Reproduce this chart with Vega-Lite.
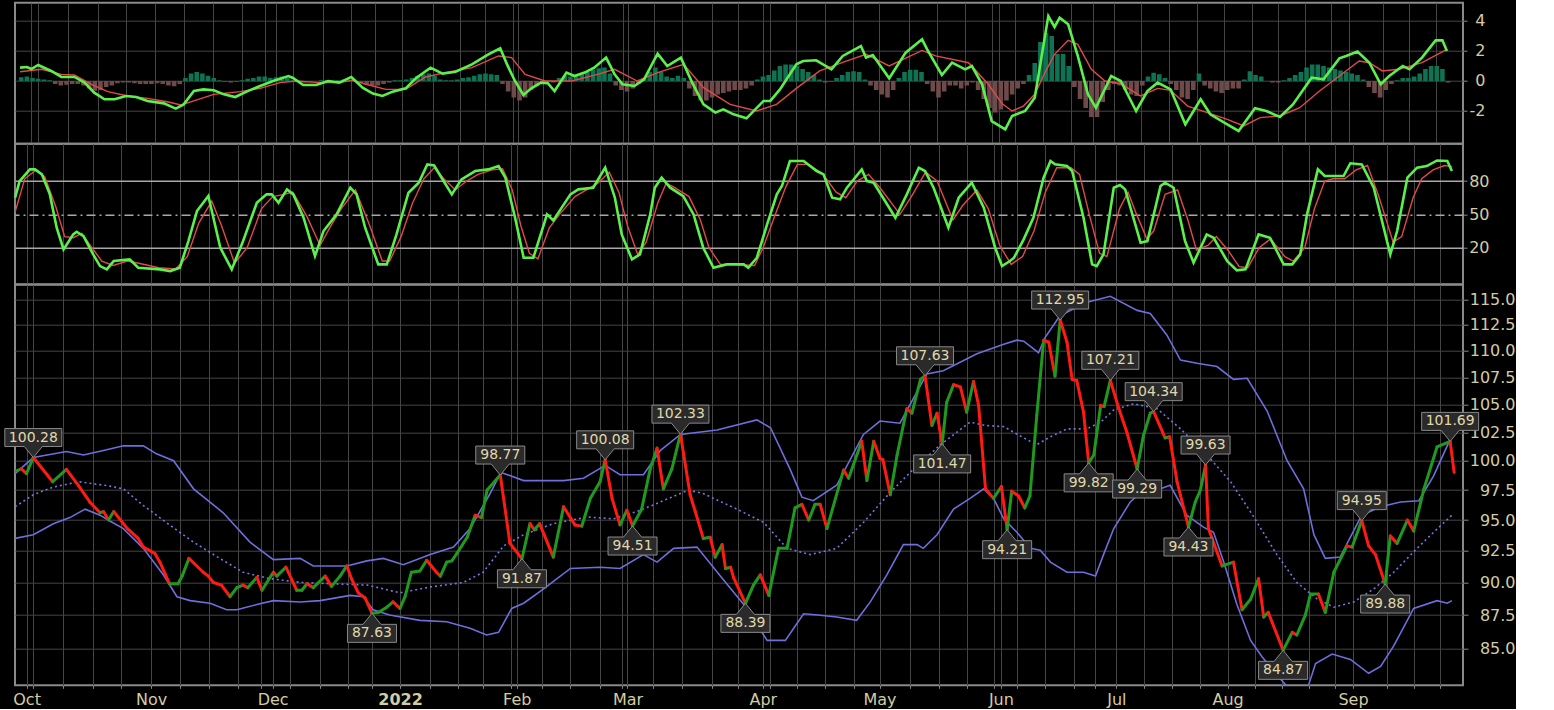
{
  "$schema": "https://vega.github.io/schema/vega-lite/v6.json",
  "background": "#000000",
  "padding": {"left": 1.0, "top": 1.7, "right": 0, "bottom": 0},
  "spacing": 0,
  "bounds": "flush",
  "config": {
    "view": {"stroke": "#8a8a8a", "strokeWidth": 2},
    "axis": {"gridColor": "#454545", "gridWidth": 1, "labelColor": "#d4cca0", "labelFont": "DejaVu Sans", "labelFontSize": 16, "domain": false, "tickColor": "#8a8a8a", "title": null, "labelOverlap": false, "labelFlush": false, "labelBound": false}
  },
  "datasets": {
    "price": [
      {"t":-3.2,"p":99.1},{"t":-2.1,"p":99.3},{"t":-1.2,"p":98.9},{"t":0,"p":100.28},{"t":3.4,"p":98.2},{"t":5.8,"p":99.26},{"t":7.9,"p":97.9},{"t":9.9,"p":96.5},{"t":11.7,"p":95.6},{"t":12.3,"p":95.7},{"t":13.2,"p":95.0},{"t":14.1,"p":95.7},{"t":16.5,"p":94.3},{"t":18.4,"p":93.5},{"t":19.3,"p":92.8},{"t":21.3,"p":92.3},{"t":22.2,"p":91.6},{"t":23.9,"p":89.9},{"t":25.4,"p":89.9},{"t":26.1,"p":90.5},{"t":27.3,"p":91.9},{"t":29.8,"p":90.8},{"t":30.7,"p":90.5},{"t":31.6,"p":90.0},{"t":33,"p":89.8},{"t":34.5,"p":88.9},{"t":35.7,"p":89.6},{"t":36.8,"p":89.8},{"t":37.6,"p":89.6},{"t":39.2,"p":90.4},{"t":40.1,"p":89.4},{"t":42.1,"p":90.8},{"t":42.7,"p":90.5},{"t":44.3,"p":91.2},{"t":46.2,"p":89.4},{"t":47.1,"p":89.4},{"t":48,"p":89.9},{"t":49.1,"p":89.6},{"t":51.2,"p":90.5},{"t":52.3,"p":89.7},{"t":53.8,"p":90.5},{"t":55,"p":91.3},{"t":55.8,"p":90.3},{"t":57,"p":89.2},{"t":58.2,"p":88.8},{"t":59.4,"p":87.63},{"t":60.5,"p":87.7},{"t":62,"p":88.1},{"t":63.1,"p":88.5},{"t":64.3,"p":88.0},{"t":65.2,"p":88.9},{"t":66.3,"p":90.8},{"t":67.8,"p":90.9},{"t":69,"p":91.75},{"t":70.7,"p":90.8},{"t":71.4,"p":90.5},{"t":72.5,"p":91.6},{"t":73.4,"p":91.7},{"t":74.3,"p":92.3},{"t":76.1,"p":93.6},{"t":77.5,"p":95.4},{"t":78.6,"p":95.2},{"t":79.6,"p":97.5},{"t":81.9,"p":98.77},{"t":83.6,"p":93.1},{"t":85.7,"p":91.87},{"t":87.1,"p":94.7},{"t":87.9,"p":94.2},{"t":88.8,"p":94.7},{"t":91.2,"p":92.0},{"t":93,"p":96.1},{"t":95,"p":94.6},{"t":96.2,"p":94.5},{"t":97.7,"p":96.8},{"t":99.4,"p":98.2},{"t":100.3,"p":100.08},{"t":101.5,"p":96.8},{"t":102.9,"p":94.6},{"t":104.1,"p":95.8},{"t":105.1,"p":94.51},{"t":106.7,"p":95.9},{"t":108.2,"p":99.3},{"t":109.4,"p":101.1},{"t":110.5,"p":97.6},{"t":112,"p":99.3},{"t":113.5,"p":102.33},{"t":115.2,"p":97.1},{"t":116.1,"p":95.7},{"t":117.5,"p":93.5},{"t":118.7,"p":93.6},{"t":119.6,"p":92.0},{"t":120.8,"p":93.0},{"t":121.4,"p":91.1},{"t":122.3,"p":91.2},{"t":122.8,"p":90.4},{"t":124.9,"p":88.39},{"t":126.3,"p":89.8},{"t":127.5,"p":90.6},{"t":129,"p":89.0},{"t":130.7,"p":92.7},{"t":132.2,"p":92.7},{"t":133.6,"p":96.0},{"t":134.8,"p":96.3},{"t":136,"p":95.0},{"t":137.1,"p":96.3},{"t":138,"p":96.3},{"t":139.2,"p":94.3},{"t":142.1,"p":99.2},{"t":143,"p":98.5},{"t":145.3,"p":101.7},{"t":146.2,"p":98.3},{"t":147.4,"p":101.7},{"t":148.5,"p":100.2},{"t":149,"p":100.1},{"t":150.3,"p":97.1},{"t":151.5,"p":100.5},{"t":153.2,"p":104.6},{"t":154.1,"p":104.2},{"t":155.6,"p":107.3},{"t":156.4,"p":107.63},{"t":157.6,"p":103.1},{"t":158.5,"p":104.2},{"t":159.4,"p":101.47},{"t":160.2,"p":105.2},{"t":161.4,"p":106.8},{"t":162.6,"p":106.6},{"t":163.7,"p":104.3},{"t":164.9,"p":107.1},{"t":165.8,"p":104.9},{"t":167,"p":97.6},{"t":168.4,"p":96.8},{"t":169.8,"p":97.8},{"t":170.8,"p":94.21},{"t":171.6,"p":97.4},{"t":172.8,"p":97.0},{"t":173.9,"p":96.0},{"t":174.8,"p":97.0},{"t":176,"p":104.0},{"t":177.2,"p":111.0},{"t":178.1,"p":110.8},{"t":179.2,"p":107.6},{"t":180.1,"p":112.95},{"t":181.3,"p":110.8},{"t":182.2,"p":107.3},{"t":183,"p":107.2},{"t":184.2,"p":104.3},{"t":185.1,"p":99.82},{"t":186,"p":100.5},{"t":187.2,"p":104.9},{"t":187.8,"p":104.8},{"t":188.9,"p":107.21},{"t":190.4,"p":104.6},{"t":191.8,"p":102.5},{"t":193.6,"p":99.29},{"t":194.7,"p":102.2},{"t":195.9,"p":104.2},{"t":196.5,"p":104.34},{"t":198.5,"p":102.0},{"t":199.3,"p":102.1},{"t":200.6,"p":98.2},{"t":202.6,"p":94.43},{"t":203.8,"p":96.5},{"t":204.7,"p":97.5},{"t":205.6,"p":99.63},{"t":206.1,"p":94.3},{"t":208.5,"p":91.3},{"t":210.5,"p":91.6},{"t":212,"p":87.9},{"t":213.5,"p":88.7},{"t":214.9,"p":90.3},{"t":215.8,"p":87.35},{"t":216.6,"p":87.7},{"t":219.2,"p":84.87},{"t":220.8,"p":86.2},{"t":221.6,"p":86.0},{"t":223.1,"p":87.5},{"t":224,"p":89.1},{"t":225.4,"p":89.1},{"t":226.6,"p":87.7},{"t":228.1,"p":90.8},{"t":230.4,"p":92.9},{"t":231.3,"p":92.8},{"t":233,"p":94.95},{"t":234.2,"p":92.9},{"t":235.4,"p":92.2},{"t":237.1,"p":89.88},{"t":238,"p":93.7},{"t":239.2,"p":93.1},{"t":241,"p":95.0},{"t":242.1,"p":94.1},{"t":243.9,"p":97.6},{"t":246.2,"p":101.2},{"t":248.5,"p":101.69},{"t":249.2,"p":99.0}
    ],
    "upper": [
      {"t":-3.2,"v":98.9},{"t":0,"v":100.28},{"t":5.8,"v":100.8},{"t":8.8,"v":100.5},{"t":12.3,"v":100.9},{"t":15.8,"v":101.3},{"t":19.3,"v":101.3},{"t":21.6,"v":100.6},{"t":24.6,"v":100.0},{"t":28.1,"v":97.6},{"t":33.3,"v":95.6},{"t":38,"v":93.2},{"t":42.1,"v":91.8},{"t":46.8,"v":91.9},{"t":49.1,"v":91.3},{"t":55,"v":91.3},{"t":58.5,"v":91.7},{"t":61.4,"v":91.9},{"t":64.9,"v":91.4},{"t":69.6,"v":92.2},{"t":73.7,"v":92.8},{"t":76.6,"v":94.3},{"t":80,"v":97.1},{"t":82,"v":99.0},{"t":86,"v":98.3},{"t":93,"v":98.3},{"t":96.5,"v":98.5},{"t":100.3,"v":99.6},{"t":102.9,"v":98.8},{"t":107,"v":98.8},{"t":110,"v":100.9},{"t":113.5,"v":102.3},{"t":119.9,"v":102.7},{"t":126.9,"v":103.6},{"t":129.3,"v":102.9},{"t":132.7,"v":99.3},{"t":134.8,"v":96.9},{"t":136.8,"v":96.6},{"t":140.9,"v":97.9},{"t":145.6,"v":102.3},{"t":148.5,"v":103.5},{"t":152,"v":103.3},{"t":156.7,"v":107.8},{"t":159.6,"v":108.1},{"t":165.5,"v":109.7},{"t":170.2,"v":110.6},{"t":172.5,"v":111.0},{"t":173.7,"v":110.9},{"t":176.3,"v":109.8},{"t":177.5,"v":111.3},{"t":180.1,"v":113.4},{"t":184.8,"v":114.7},{"t":188.9,"v":115.3},{"t":193.6,"v":113.9},{"t":195.9,"v":113.6},{"t":198.8,"v":111.5},{"t":201.2,"v":109.1},{"t":204.1,"v":108.8},{"t":207.6,"v":108.5},{"t":210.5,"v":107.3},{"t":212.9,"v":107.4},{"t":216.4,"v":104.4},{"t":219.9,"v":100.0},{"t":222.8,"v":97.6},{"t":224.6,"v":93.8},{"t":226.6,"v":91.9},{"t":229.2,"v":92.0},{"t":233,"v":95.4},{"t":236.3,"v":96.1},{"t":239.8,"v":96.5},{"t":243,"v":96.6},{"t":245.6,"v":98.7},{"t":248.8,"v":102.2}
    ],
    "lower": [
      {"t":-3.2,"v":93.5},{"t":0,"v":93.8},{"t":3.5,"v":94.7},{"t":6.4,"v":95.2},{"t":9.1,"v":95.9},{"t":11.7,"v":95.4},{"t":13.5,"v":94.9},{"t":15.8,"v":94.3},{"t":19.3,"v":92.7},{"t":22.8,"v":90.6},{"t":25.2,"v":88.9},{"t":27.5,"v":88.6},{"t":31,"v":88.4},{"t":33.9,"v":87.9},{"t":35.7,"v":87.9},{"t":39.2,"v":88.3},{"t":42.1,"v":88.6},{"t":46.8,"v":88.5},{"t":50.3,"v":88.6},{"t":55.6,"v":89.0},{"t":57.9,"v":88.9},{"t":59.6,"v":87.9},{"t":62.5,"v":87.5},{"t":67.8,"v":87.1},{"t":72.5,"v":87.0},{"t":76.6,"v":86.5},{"t":79.5,"v":86.0},{"t":81.6,"v":86.2},{"t":83.9,"v":88.0},{"t":86,"v":88.4},{"t":89.5,"v":89.5},{"t":94.2,"v":91.1},{"t":99.4,"v":91.2},{"t":102.9,"v":91.1},{"t":107,"v":92.2},{"t":109.4,"v":91.6},{"t":112.3,"v":92.7},{"t":116.4,"v":92.8},{"t":120.5,"v":90.5},{"t":124.6,"v":88.3},{"t":128.7,"v":85.6},{"t":131.9,"v":85.6},{"t":135.1,"v":87.6},{"t":137.6,"v":87.5},{"t":140.9,"v":87.35},{"t":144.4,"v":87.1},{"t":146.8,"v":88.5},{"t":149.7,"v":90.6},{"t":152.6,"v":93.0},{"t":155,"v":93.0},{"t":156.1,"v":92.7},{"t":158.5,"v":93.8},{"t":161.4,"v":95.9},{"t":164.3,"v":96.8},{"t":166.7,"v":97.6},{"t":168.4,"v":96.8},{"t":170.2,"v":95.1},{"t":172.5,"v":94.0},{"t":174.9,"v":92.7},{"t":176.6,"v":92.55},{"t":178.4,"v":91.6},{"t":181.3,"v":90.8},{"t":184.2,"v":90.8},{"t":186.3,"v":90.5},{"t":187.7,"v":92.2},{"t":189.5,"v":94.3},{"t":192.4,"v":96.5},{"t":194.7,"v":97.5},{"t":197.7,"v":97.6},{"t":199.4,"v":97.9},{"t":202.3,"v":95.4},{"t":205.3,"v":94.4},{"t":207,"v":94.0},{"t":208.8,"v":91.6},{"t":211.1,"v":88.3},{"t":213.5,"v":85.6},{"t":215.5,"v":84.4},{"t":218.7,"v":82.8},{"t":220.7,"v":81.9},{"t":222.5,"v":81.9},{"t":223.7,"v":82.4},{"t":224.9,"v":83.9},{"t":227.8,"v":84.6},{"t":231,"v":84.2},{"t":234.2,"v":83.2},{"t":236.3,"v":83.7},{"t":238.6,"v":85.2},{"t":242.1,"v":88.0},{"t":246.2,"v":88.6},{"t":248,"v":88.4},{"t":248.8,"v":88.6}
    ],
    "middle": [
      {"t":-3.2,"v":96.1},{"t":0,"v":97.1},{"t":3.5,"v":97.75},{"t":8,"v":98.2},{"t":13.2,"v":97.85},{"t":15.8,"v":97.6},{"t":19.3,"v":96.2},{"t":23.9,"v":94.6},{"t":28.1,"v":93.2},{"t":32.7,"v":91.9},{"t":36.8,"v":90.8},{"t":41.5,"v":90.3},{"t":47.1,"v":90.0},{"t":52.6,"v":89.9},{"t":58.6,"v":89.8},{"t":64.3,"v":89.2},{"t":69.6,"v":89.65},{"t":75.4,"v":90.0},{"t":78.9,"v":90.8},{"t":82.5,"v":92.9},{"t":86,"v":93.8},{"t":91.2,"v":94.7},{"t":97.1,"v":95.25},{"t":101.8,"v":95.1},{"t":105.8,"v":95.7},{"t":108.5,"v":96.2},{"t":114.9,"v":97.5},{"t":117.5,"v":97.2},{"t":123.4,"v":95.9},{"t":128.1,"v":94.8},{"t":132.2,"v":92.7},{"t":136.3,"v":92.2},{"t":140.9,"v":92.7},{"t":145.6,"v":94.8},{"t":150.3,"v":97.3},{"t":153.8,"v":99.0},{"t":159.1,"v":101.4},{"t":164.3,"v":103.4},{"t":167,"v":103.1},{"t":170.2,"v":103.0},{"t":173.7,"v":102.0},{"t":176,"v":101.4},{"t":178.4,"v":102.1},{"t":181.3,"v":102.8},{"t":184.8,"v":102.8},{"t":187.2,"v":103.4},{"t":189.5,"v":104.5},{"t":193,"v":105.06},{"t":197.1,"v":104.6},{"t":201.2,"v":102.8},{"t":205.3,"v":100.8},{"t":210,"v":98.2},{"t":214,"v":95.3},{"t":218.1,"v":92.2},{"t":221.6,"v":90.0},{"t":225.1,"v":88.75},{"t":228.1,"v":88.1},{"t":231.6,"v":88.5},{"t":235.1,"v":89.5},{"t":238.6,"v":90.8},{"t":242.7,"v":92.7},{"t":245.6,"v":94.0},{"t":248.8,"v":95.4}
    ],
    "labels": [
      {"t":0,"p":100.28,"txt":"100.28","kind":"peak"},{"t":59.4,"p":87.63,"txt":"87.63","kind":"trough"},{"t":81.9,"p":98.77,"txt":"98.77","kind":"peak"},{"t":85.7,"p":91.87,"txt":"91.87","kind":"trough"},{"t":100.3,"p":100.08,"txt":"100.08","kind":"peak"},{"t":105.1,"p":94.51,"txt":"94.51","kind":"trough"},{"t":113.5,"p":102.33,"txt":"102.33","kind":"peak"},{"t":124.9,"p":88.39,"txt":"88.39","kind":"trough"},{"t":156.4,"p":107.63,"txt":"107.63","kind":"peak"},{"t":159.4,"p":101.47,"txt":"101.47","kind":"trough"},{"t":170.8,"p":94.21,"txt":"94.21","kind":"trough"},{"t":180.1,"p":112.95,"txt":"112.95","kind":"peak"},{"t":185.1,"p":99.82,"txt":"99.82","kind":"trough"},{"t":188.9,"p":107.21,"txt":"107.21","kind":"peak"},{"t":193.6,"p":99.29,"txt":"99.29","kind":"trough"},{"t":196.5,"p":104.34,"txt":"104.34","kind":"peak"},{"t":202.6,"p":94.43,"txt":"94.43","kind":"trough"},{"t":205.6,"p":99.63,"txt":"99.63","kind":"peak"},{"t":219.2,"p":84.87,"txt":"84.87","kind":"trough"},{"t":233,"p":94.95,"txt":"94.95","kind":"peak"},{"t":237.1,"p":89.88,"txt":"89.88","kind":"trough"},{"t":248.5,"p":101.69,"txt":"101.69","kind":"peak"}
    ],
    "macd": [
      {"t":-3.2,"v":0.89},{"t":-2,"v":0.93},{"t":-1.2,"v":0.8},{"t":0,"v":1.07},{"t":2.3,"v":0.67},{"t":4.1,"v":0.27},{"t":6.4,"v":0.27},{"t":8.2,"v":-0.11},{"t":9.9,"v":-0.78},{"t":11.7,"v":-1.22},{"t":13.5,"v":-1.22},{"t":15.5,"v":-1.0},{"t":17.3,"v":-1.07},{"t":19.3,"v":-1.33},{"t":22.2,"v":-1.49},{"t":24.3,"v":-1.84},{"t":25.7,"v":-1.56},{"t":27.5,"v":-0.67},{"t":29.2,"v":-0.56},{"t":31,"v":-0.62},{"t":32.8,"v":-0.89},{"t":34.8,"v":-1.07},{"t":36.8,"v":-0.71},{"t":39.2,"v":-0.33},{"t":41.5,"v":0},{"t":44.2,"v":0.33},{"t":45,"v":0.2},{"t":46.8,"v":-0.27},{"t":49.1,"v":-0.27},{"t":51.2,"v":0},{"t":53.2,"v":-0.11},{"t":55.3,"v":0.27},{"t":57.3,"v":-0.44},{"t":59.1,"v":-0.84},{"t":60.8,"v":-1.0},{"t":62.6,"v":-0.71},{"t":64.9,"v":-0.49},{"t":66.7,"v":0.18},{"t":69.3,"v":0.89},{"t":71.4,"v":0.49},{"t":73.7,"v":0.62},{"t":76.6,"v":1.11},{"t":79.5,"v":1.78},{"t":81.6,"v":2.18},{"t":82.8,"v":1.11},{"t":84.2,"v":0},{"t":85.7,"v":-0.93},{"t":87.1,"v":-0.49},{"t":88.8,"v":-0.11},{"t":90,"v":-0.15},{"t":91.2,"v":-0.67},{"t":93.3,"v":0.56},{"t":94.7,"v":0.33},{"t":96.5,"v":0.56},{"t":98.2,"v":0.89},{"t":100.3,"v":1.56},{"t":101.8,"v":0.44},{"t":103.2,"v":-0.22},{"t":105.3,"v":-0.33},{"t":107,"v":0.11},{"t":109.4,"v":1.82},{"t":111.1,"v":1.0},{"t":113.5,"v":1.56},{"t":115.5,"v":-0.11},{"t":117.5,"v":-1.56},{"t":119.6,"v":-2.11},{"t":121,"v":-1.89},{"t":122.8,"v":-2.22},{"t":125.1,"v":-2.49},{"t":128.1,"v":-1.33},{"t":129.3,"v":-1.33},{"t":131,"v":-0.56},{"t":133.9,"v":1.11},{"t":135.1,"v":1.33},{"t":137.4,"v":1.38},{"t":140.1,"v":0.78},{"t":142.1,"v":1.67},{"t":145.3,"v":2.33},{"t":146.2,"v":1.56},{"t":147.4,"v":1.73},{"t":150.3,"v":0.18},{"t":153.2,"v":1.89},{"t":156.1,"v":2.78},{"t":157,"v":2.11},{"t":159.6,"v":0.4},{"t":161.4,"v":1.22},{"t":163.7,"v":0.78},{"t":164.9,"v":1.0},{"t":166.7,"v":-0.22},{"t":168.4,"v":-2.67},{"t":170.8,"v":-3.22},{"t":172,"v":-2.33},{"t":174.3,"v":-2.0},{"t":176,"v":-1.11},{"t":178.4,"v":4.33},{"t":179.5,"v":3.6},{"t":180.4,"v":4.22},{"t":181.9,"v":3.78},{"t":183.6,"v":1.67},{"t":185.4,"v":-0.89},{"t":186.8,"v":-1.78},{"t":189.5,"v":0.33},{"t":191.2,"v":0},{"t":193.9,"v":-2.0},{"t":195.9,"v":-0.67},{"t":197.7,"v":-0.11},{"t":200,"v":-0.56},{"t":202.6,"v":-2.89},{"t":205.3,"v":-1.22},{"t":207,"v":-2.22},{"t":210,"v":-2.89},{"t":212,"v":-3.33},{"t":214.9,"v":-1.82},{"t":216.9,"v":-2.0},{"t":219.3,"v":-2.4},{"t":221.6,"v":-1.56},{"t":224.9,"v":0.22},{"t":227,"v":0.11},{"t":229.8,"v":1.51},{"t":231,"v":1.67},{"t":233,"v":1.96},{"t":235.1,"v":1.22},{"t":237.1,"v":-0.22},{"t":238.6,"v":0.33},{"t":241,"v":1.0},{"t":242.2,"v":0.78},{"t":244.4,"v":1.56},{"t":246.8,"v":2.71},{"t":248,"v":2.71},{"t":248.8,"v":2.0}
    ],
    "signal": [
      {"t":-3.2,"v":0.62},{"t":0.6,"v":0.78},{"t":4.1,"v":0.44},{"t":6.4,"v":0.4},{"t":9.4,"v":-0.22},{"t":12.3,"v":-0.71},{"t":15.8,"v":-1.0},{"t":19.3,"v":-1.16},{"t":22.8,"v":-1.38},{"t":25.2,"v":-1.6},{"t":27.5,"v":-1.33},{"t":31,"v":-0.89},{"t":35.7,"v":-0.71},{"t":39.2,"v":-0.49},{"t":42.7,"v":-0.11},{"t":45.6,"v":0},{"t":49.6,"v":-0.11},{"t":53,"v":-0.11},{"t":55.6,"v":0.04},{"t":57.9,"v":-0.22},{"t":61.4,"v":-0.56},{"t":64.9,"v":-0.56},{"t":68.4,"v":0.27},{"t":71.9,"v":0.56},{"t":76.6,"v":0.89},{"t":81.3,"v":1.67},{"t":83.6,"v":1.56},{"t":86,"v":0.44},{"t":89.5,"v":0},{"t":94.2,"v":0},{"t":98.8,"v":0.44},{"t":101.8,"v":0.78},{"t":105.8,"v":0},{"t":109.4,"v":0.56},{"t":114,"v":1.11},{"t":117.5,"v":-0.44},{"t":122.2,"v":-1.56},{"t":126.9,"v":-2.0},{"t":130.4,"v":-1.56},{"t":133.9,"v":-0.49},{"t":138,"v":0.67},{"t":142.7,"v":1.33},{"t":146.2,"v":1.78},{"t":150.3,"v":1.0},{"t":156.1,"v":2.04},{"t":158.5,"v":1.67},{"t":164.3,"v":1.22},{"t":167.8,"v":-0.22},{"t":170.2,"v":-1.5},{"t":172,"v":-2.0},{"t":174,"v":-1.67},{"t":176,"v":-0.89},{"t":177.8,"v":0.56},{"t":179.5,"v":1.78},{"t":181.9,"v":2.71},{"t":183.6,"v":2.44},{"t":186,"v":0.78},{"t":188.4,"v":0},{"t":191.2,"v":-0.18},{"t":194.7,"v":-1.0},{"t":197.7,"v":-0.49},{"t":200,"v":-0.62},{"t":203,"v":-1.67},{"t":206.5,"v":-2.11},{"t":210,"v":-2.56},{"t":212.9,"v":-3.0},{"t":215.8,"v":-2.44},{"t":219.3,"v":-2.33},{"t":222.8,"v":-1.78},{"t":226.3,"v":-0.67},{"t":229.8,"v":0.33},{"t":233.3,"v":1.33},{"t":235.1,"v":1.22},{"t":237.4,"v":0.67},{"t":240.3,"v":0.78},{"t":244.4,"v":1.22},{"t":248.8,"v":2.11}
    ],
    "hist": [
      {"t":-3,"v":0.25},{"t":-2,"v":0.3},{"t":-1,"v":0.2},{"t":0,"v":0.15},{"t":1,"v":0.1},{"t":2,"v":0.05},{"t":3,"v":-0.2},{"t":4,"v":-0.3},{"t":5,"v":-0.25},{"t":6,"v":-0.2},{"t":7,"v":-0.2},{"t":8,"v":-0.3},{"t":9,"v":-0.5},{"t":10,"v":-0.65},{"t":11,"v":-0.6},{"t":12,"v":-0.4},{"t":13,"v":-0.3},{"t":14,"v":-0.15},{"t":15,"v":-0.1},{"t":16,"v":-0.1},{"t":17,"v":-0.15},{"t":18,"v":-0.2},{"t":19,"v":-0.2},{"t":20,"v":-0.2},{"t":21,"v":-0.15},{"t":22,"v":-0.2},{"t":23,"v":-0.3},{"t":24,"v":-0.35},{"t":25,"v":-0.2},{"t":26,"v":0.2},{"t":27,"v":0.5},{"t":28,"v":0.6},{"t":29,"v":0.5},{"t":30,"v":0.35},{"t":31,"v":0.2},{"t":32,"v":0.05},{"t":33,"v":-0.05},{"t":34,"v":-0.1},{"t":35,"v":-0.05},{"t":36,"v":0.05},{"t":37,"v":0.15},{"t":38,"v":0.2},{"t":39,"v":0.3},{"t":40,"v":0.3},{"t":41,"v":0.2},{"t":42,"v":0.25},{"t":43,"v":0.3},{"t":44,"v":0.2},{"t":45,"v":0.05},{"t":46,"v":-0.05},{"t":47,"v":-0.1},{"t":48,"v":-0.05},{"t":49,"v":0.0},{"t":50,"v":0.05},{"t":51,"v":0.05},{"t":52,"v":0.0},{"t":53,"v":0.05},{"t":54,"v":0.1},{"t":55,"v":0.1},{"t":56,"v":0.0},{"t":57,"v":-0.15},{"t":58,"v":-0.25},{"t":59,"v":-0.3},{"t":60,"v":-0.3},{"t":61,"v":-0.2},{"t":62,"v":-0.1},{"t":63,"v":0.05},{"t":64,"v":0.05},{"t":65,"v":0.1},{"t":66,"v":0.2},{"t":67,"v":0.35},{"t":68,"v":0.45},{"t":69,"v":0.5},{"t":70,"v":0.35},{"t":71,"v":0.1},{"t":72,"v":0.05},{"t":73,"v":0.05},{"t":74,"v":0.1},{"t":75,"v":0.2},{"t":76,"v":0.25},{"t":77,"v":0.35},{"t":78,"v":0.45},{"t":79,"v":0.5},{"t":80,"v":0.45},{"t":81,"v":0.4},{"t":82,"v":-0.2},{"t":83,"v":-0.7},{"t":84,"v":-1.1},{"t":85,"v":-1.3},{"t":86,"v":-1.1},{"t":87,"v":-0.6},{"t":88,"v":-0.35},{"t":89,"v":-0.1},{"t":90,"v":-0.05},{"t":91,"v":-0.1},{"t":92,"v":0.2},{"t":93,"v":0.35},{"t":94,"v":0.3},{"t":95,"v":0.4},{"t":96,"v":0.45},{"t":97,"v":0.6},{"t":98,"v":0.75},{"t":99,"v":0.85},{"t":100,"v":0.9},{"t":101,"v":0.5},{"t":102,"v":-0.3},{"t":103,"v":-0.6},{"t":104,"v":-0.7},{"t":105,"v":-0.5},{"t":106,"v":-0.2},{"t":107,"v":0.2},{"t":108,"v":0.6},{"t":109,"v":0.9},{"t":110,"v":0.6},{"t":111,"v":0.3},{"t":112,"v":0.2},{"t":113,"v":0.35},{"t":114,"v":0.2},{"t":115,"v":-0.5},{"t":116,"v":-1.0},{"t":117,"v":-1.3},{"t":118,"v":-1.3},{"t":119,"v":-1.1},{"t":120,"v":-0.9},{"t":121,"v":-0.8},{"t":122,"v":-0.7},{"t":123,"v":-0.6},{"t":124,"v":-0.6},{"t":125,"v":-0.5},{"t":126,"v":-0.3},{"t":127,"v":0.1},{"t":128,"v":0.3},{"t":129,"v":0.4},{"t":130,"v":0.7},{"t":131,"v":1.0},{"t":132,"v":1.1},{"t":133,"v":1.1},{"t":134,"v":1.0},{"t":135,"v":0.8},{"t":136,"v":0.6},{"t":137,"v":0.4},{"t":138,"v":0.1},{"t":139,"v":-0.1},{"t":140,"v":-0.05},{"t":141,"v":0.2},{"t":142,"v":0.4},{"t":143,"v":0.6},{"t":144,"v":0.65},{"t":145,"v":0.6},{"t":146,"v":0.1},{"t":147,"v":-0.3},{"t":148,"v":-0.6},{"t":149,"v":-0.9},{"t":150,"v":-1.1},{"t":151,"v":-0.6},{"t":152,"v":0.2},{"t":153,"v":0.6},{"t":154,"v":0.75},{"t":155,"v":0.75},{"t":156,"v":0.6},{"t":157,"v":-0.2},{"t":158,"v":-0.7},{"t":159,"v":-1.1},{"t":160,"v":-0.7},{"t":161,"v":-0.3},{"t":162,"v":-0.3},{"t":163,"v":-0.5},{"t":164,"v":-0.3},{"t":165,"v":-0.1},{"t":166,"v":-0.6},{"t":167,"v":-1.2},{"t":168,"v":-1.8},{"t":169,"v":-2.1},{"t":170,"v":-1.9},{"t":171,"v":-1.3},{"t":172,"v":-0.9},{"t":173,"v":-0.5},{"t":174,"v":-0.2},{"t":175,"v":0.4},{"t":176,"v":1.2},{"t":177,"v":2.6},{"t":178,"v":3.2},{"t":179,"v":3.0},{"t":180,"v":1.8},{"t":181,"v":1.8},{"t":182,"v":1.0},{"t":183,"v":-0.4},{"t":184,"v":-1.2},{"t":185,"v":-1.8},{"t":186,"v":-2.4},{"t":187,"v":-2.4},{"t":188,"v":-1.4},{"t":189,"v":-0.6},{"t":190,"v":-0.2},{"t":191,"v":-0.3},{"t":192,"v":-0.6},{"t":193,"v":-0.9},{"t":194,"v":-1.0},{"t":195,"v":-0.3},{"t":196,"v":0.3},{"t":197,"v":0.55},{"t":198,"v":0.45},{"t":199,"v":0.2},{"t":200,"v":-0.2},{"t":201,"v":-0.6},{"t":202,"v":-1.1},{"t":203,"v":-1.2},{"t":204,"v":-0.6},{"t":205,"v":0.5},{"t":206,"v":-0.3},{"t":207,"v":-0.5},{"t":208,"v":-0.7},{"t":209,"v":-0.8},{"t":210,"v":-0.6},{"t":211,"v":-0.5},{"t":212,"v":-0.5},{"t":213,"v":0.1},{"t":214,"v":0.65},{"t":215,"v":0.4},{"t":216,"v":0.3},{"t":217,"v":0.0},{"t":218,"v":-0.1},{"t":219,"v":-0.1},{"t":220,"v":0.05},{"t":221,"v":0.2},{"t":222,"v":0.4},{"t":223,"v":0.6},{"t":224,"v":0.9},{"t":225,"v":1.1},{"t":226,"v":1.1},{"t":227,"v":1.0},{"t":228,"v":0.9},{"t":229,"v":0.8},{"t":230,"v":0.7},{"t":231,"v":0.6},{"t":232,"v":0.5},{"t":233,"v":0.4},{"t":234,"v":0.1},{"t":235,"v":-0.4},{"t":236,"v":-0.8},{"t":237,"v":-1.1},{"t":238,"v":-0.6},{"t":239,"v":-0.2},{"t":240,"v":0.05},{"t":241,"v":0.2},{"t":242,"v":0.2},{"t":243,"v":0.3},{"t":244,"v":0.5},{"t":245,"v":0.8},{"t":246,"v":1.0},{"t":247,"v":1.0},{"t":248,"v":0.8},{"t":249,"v":-0.1}
    ],
    "stochK": [
      {"t":-3.2,"v":65},{"t":-2.4,"v":80},{"t":-0.6,"v":90.5},{"t":0.3,"v":90.5},{"t":1.5,"v":86},{"t":2.9,"v":68},{"t":4.1,"v":38},{"t":5.3,"v":18.5},{"t":7,"v":32},{"t":7.6,"v":34.4},{"t":8.8,"v":30.5},{"t":10.5,"v":14},{"t":11.7,"v":3.5},{"t":12.9,"v":0.5},{"t":14.1,"v":8},{"t":16.9,"v":9.5},{"t":18.4,"v":2},{"t":22.2,"v":0.5},{"t":24,"v":-1},{"t":25.7,"v":2},{"t":27.2,"v":26},{"t":28.7,"v":53},{"t":30.7,"v":66.5},{"t":32.8,"v":20},{"t":34.8,"v":0.5},{"t":36.8,"v":26},{"t":39.2,"v":60.5},{"t":40.9,"v":68},{"t":41.8,"v":68},{"t":43,"v":60.5},{"t":44.5,"v":72.5},{"t":45.6,"v":68},{"t":47.4,"v":47},{"t":49.4,"v":12.5},{"t":50.9,"v":35},{"t":53.2,"v":50},{"t":55.6,"v":74},{"t":56.7,"v":68},{"t":58.2,"v":38},{"t":60.5,"v":5},{"t":62,"v":5},{"t":63.7,"v":32},{"t":65.8,"v":69.5},{"t":67.6,"v":78.5},{"t":69.1,"v":95},{"t":70.3,"v":94},{"t":71.6,"v":83},{"t":73.4,"v":68},{"t":75.1,"v":81.5},{"t":77.5,"v":89},{"t":79.8,"v":90.5},{"t":81.6,"v":93.5},{"t":82.8,"v":83},{"t":84.5,"v":47},{"t":86,"v":11},{"t":87.7,"v":11},{"t":90.1,"v":50},{"t":91.2,"v":44.6},{"t":94.2,"v":68},{"t":95.6,"v":72.5},{"t":98.2,"v":74},{"t":100.3,"v":92},{"t":102,"v":65},{"t":103.2,"v":32},{"t":105,"v":9.5},{"t":106.4,"v":14},{"t":108.2,"v":50},{"t":109,"v":74},{"t":110.2,"v":83},{"t":111.7,"v":74},{"t":114,"v":66.5},{"t":115.8,"v":50},{"t":117.5,"v":20},{"t":119.3,"v":2},{"t":121.6,"v":5},{"t":124.6,"v":5},{"t":125.4,"v":2},{"t":126.9,"v":11},{"t":128.7,"v":41},{"t":130.4,"v":68},{"t":131.3,"v":75.5},{"t":132.7,"v":98},{"t":135.1,"v":98},{"t":137.4,"v":89},{"t":138.6,"v":86},{"t":140.1,"v":65},{"t":141.5,"v":63.5},{"t":142.7,"v":74},{"t":145.3,"v":90.5},{"t":146.2,"v":80},{"t":147.4,"v":78.5},{"t":151.2,"v":47},{"t":153.2,"v":68},{"t":155.3,"v":92},{"t":156.4,"v":89},{"t":157.9,"v":74},{"t":160.5,"v":38},{"t":162.3,"v":65},{"t":164.6,"v":78.5},{"t":166.7,"v":56},{"t":168.7,"v":20},{"t":169.9,"v":3.5},{"t":171.3,"v":8},{"t":172,"v":11},{"t":173.7,"v":27.5},{"t":175.4,"v":47},{"t":177.2,"v":83},{"t":178.4,"v":98},{"t":179.2,"v":95},{"t":181.3,"v":93.5},{"t":182.2,"v":89},{"t":184.2,"v":47},{"t":185.7,"v":5},{"t":186.5,"v":3.5},{"t":187.7,"v":14},{"t":189.5,"v":74},{"t":190.6,"v":76.4},{"t":191.5,"v":72.5},{"t":194.2,"v":24.5},{"t":195.4,"v":26},{"t":197.7,"v":75.5},{"t":198.5,"v":78.5},{"t":200,"v":74},{"t":202,"v":26},{"t":203.5,"v":6.5},{"t":205.8,"v":32},{"t":207,"v":29},{"t":209.4,"v":8},{"t":211.1,"v":-0.4},{"t":212.6,"v":0.5},{"t":214.9,"v":32},{"t":216.9,"v":29},{"t":219.3,"v":5},{"t":220.8,"v":5},{"t":222.2,"v":14},{"t":223.4,"v":50},{"t":225.3,"v":90.5},{"t":226.5,"v":84.5},{"t":229.8,"v":84.5},{"t":231,"v":96},{"t":233,"v":95},{"t":235.1,"v":74},{"t":238,"v":14},{"t":239.2,"v":35},{"t":241,"v":83},{"t":242.7,"v":92},{"t":244.4,"v":93.5},{"t":246.2,"v":98.5},{"t":248,"v":98},{"t":248.8,"v":89}
    ],
    "stochD": [
      {"t":-3.2,"v":52},{"t":-1.5,"v":82},{"t":0.5,"v":90},{"t":2,"v":84},{"t":4,"v":56},{"t":5.5,"v":30},{"t":7,"v":29},{"t":8.5,"v":33},{"t":10,"v":22},{"t":12,"v":8},{"t":14,"v":4},{"t":16.5,"v":8},{"t":18.5,"v":6},{"t":22,"v":2},{"t":25,"v":1},{"t":27,"v":12},{"t":29,"v":42},{"t":31.3,"v":62},{"t":33,"v":40},{"t":35.3,"v":6},{"t":37.5,"v":20},{"t":40,"v":55},{"t":42,"v":66},{"t":44,"v":68},{"t":45.5,"v":70},{"t":48,"v":48},{"t":50.3,"v":22},{"t":52,"v":38},{"t":54,"v":55},{"t":56.5,"v":72},{"t":59,"v":40},{"t":61.2,"v":8},{"t":62.5,"v":8},{"t":64.5,"v":30},{"t":66.5,"v":60},{"t":68.5,"v":82},{"t":70.3,"v":92},{"t":72,"v":82},{"t":74,"v":72},{"t":76,"v":80},{"t":78,"v":86},{"t":80.5,"v":90},{"t":82.3,"v":91},{"t":84,"v":72},{"t":85.5,"v":40},{"t":87,"v":15},{"t":88.5,"v":10},{"t":90.5,"v":38},{"t":92.3,"v":50},{"t":95,"v":66},{"t":97,"v":72},{"t":99,"v":78},{"t":101,"v":88},{"t":102.7,"v":70},{"t":104.2,"v":40},{"t":106,"v":14},{"t":107.5,"v":25},{"t":109.5,"v":60},{"t":111,"v":78},{"t":112.5,"v":74},{"t":115,"v":66},{"t":117,"v":45},{"t":118.5,"v":20},{"t":120.5,"v":5},{"t":123,"v":5},{"t":126.5,"v":4},{"t":128,"v":20},{"t":130,"v":48},{"t":132,"v":75},{"t":134,"v":95},{"t":136,"v":95},{"t":138.5,"v":86},{"t":140.8,"v":70},{"t":142.5,"v":65},{"t":144.5,"v":80},{"t":146.5,"v":86},{"t":148.5,"v":74},{"t":152,"v":50},{"t":154,"v":66},{"t":156.5,"v":88},{"t":158.5,"v":80},{"t":161.3,"v":45},{"t":163,"v":58},{"t":165.5,"v":72},{"t":167.5,"v":55},{"t":169.5,"v":22},{"t":171.5,"v":5},{"t":173.5,"v":12},{"t":175.5,"v":35},{"t":177.5,"v":70},{"t":179.5,"v":92},{"t":182,"v":92},{"t":183.5,"v":86},{"t":185.2,"v":50},{"t":187,"v":15},{"t":188.3,"v":12},{"t":190.5,"v":55},{"t":192,"v":70},{"t":193.5,"v":50},{"t":195.3,"v":28},{"t":196.5,"v":35},{"t":198.5,"v":68},{"t":200.7,"v":72},{"t":202.5,"v":45},{"t":204,"v":18},{"t":206,"v":22},{"t":207.5,"v":30},{"t":209.5,"v":18},{"t":211.5,"v":3},{"t":213,"v":2},{"t":215,"v":20},{"t":217,"v":28},{"t":219.5,"v":12},{"t":221,"v":8},{"t":223,"v":20},{"t":224.7,"v":55},{"t":226.5,"v":80},{"t":228,"v":82},{"t":230,"v":82},{"t":232,"v":90},{"t":234,"v":94},{"t":236,"v":66},{"t":238.5,"v":25},{"t":240,"v":30},{"t":242,"v":65},{"t":243.5,"v":82},{"t":245.5,"v":90},{"t":247.5,"v":94},{"t":248.8,"v":93}
    ]
  },
  "vconcat": [
    {
      "width": 1448,
      "height": 141,
      "encoding": {
        "x": {"field": "t", "type": "quantitative", "scale": {"domain": [-3.21, 250.75], "nice": false, "zero": false},
          "axis": {"values": [-1.18,0,5.26,10.53,15.44,20.65,25.79,30.88,35.96,40,41.98,45.09,50.35,55.26,59.47,64.33,69.65,74.56,78.95,83.86,84.79,89.18,94.16,99.42,103.21,104.21,108.77,113.74,119,123.68,127.95,129.25,133.91,138.89,143.86,148.42,153.81,158.77,163.74,168.42,169.7,172.46,177.49,182.46,186.26,189.95,194.74,199.7,204.68,209.47,214.33,219,223.68,228.37,231.46,237.42,242.11,246.79], "labels": false, "ticks": false, "grid": true}}
      },
      "layer": [
        {
          "data": {"name": "hist"},
          "mark": {"type": "bar", "size": 4.6},
          "encoding": {
            "y": {"field": "v", "type": "quantitative", "scale": {"domain": [-4.18, 5.22], "nice": false, "zero": false},
              "axis": {"orient": "right", "values": [-2, 0, 2, 4], "labelExpr": "'' + datum.value", "labelAlign": "right", "tickSize": 4, "labelPadding": 18, "grid": true}},
            "y2": {"datum": 0},
            "color": {"condition": {"test": "datum.v >= 0", "value": "#0f7252"}, "value": "#704a4a"}
          }
        },
        {
          "data": {"name": "signal"},
          "mark": {"type": "line", "color": "#e04a4a", "strokeWidth": 1.4},
          "encoding": {"y": {"field": "v", "type": "quantitative"}}
        },
        {
          "data": {"name": "macd"},
          "mark": {"type": "line", "color": "#5cf04c", "strokeWidth": 2.6},
          "encoding": {"y": {"field": "v", "type": "quantitative"}}
        }
      ]
    },
    {
      "width": 1448,
      "height": 140.6,
      "encoding": {
        "x": {"field": "t", "type": "quantitative", "scale": {"domain": [-3.21, 250.75], "nice": false, "zero": false},
          "axis": {"values": [-1.18,0,5.26,10.53,15.44,20.65,25.79,30.88,35.96,40,41.98,45.09,50.35,55.26,59.47,64.33,69.65,74.56,78.95,83.86,84.79,89.18,94.16,99.42,103.21,104.21,108.77,113.74,119,123.68,127.95,129.25,133.91,138.89,143.86,148.42,153.81,158.77,163.74,168.42,169.7,172.46,177.49,182.46,186.26,189.95,194.74,199.7,204.68,209.47,214.33,219,223.68,228.37,231.46,237.42,242.11,246.79], "labels": false, "ticks": false, "grid": true}}
      },
      "layer": [
        {
          "data": {"name": "stochD"},
          "mark": {"type": "line", "color": "#e04a4a", "strokeWidth": 1.4},
          "encoding": {
            "y": {"field": "v", "type": "quantitative", "scale": {"domain": [-12.9, 113.6], "nice": false, "zero": false},
              "axis": {"orient": "right", "values": [20, 50, 80], "labelAlign": "right", "tickSize": 4, "labelPadding": 22, "grid": true, "gridColor": "#a8a8a8", "gridWidth": 1.6,
                "gridDash": {"condition": {"test": "datum.value == 50", "value": [9, 4, 2, 4]}, "value": []}}},
            "color": {"value": "#e04a4a"}
          }
        },
        {
          "data": {"name": "stochK"},
          "mark": {"type": "line", "color": "#5cf04c", "strokeWidth": 2.6},
          "encoding": {"y": {"field": "v", "type": "quantitative"}}
        }
      ]
    },
    {
      "width": 1448,
      "height": 400.6,
      "encoding": {
        "x": {"field": "t", "type": "quantitative", "scale": {"domain": [-3.21, 250.75], "nice": false, "zero": false},
          "axis": {"values": [-1.18,0,5.26,10.53,15.44,20.65,25.79,30.88,35.96,40,41.98,45.09,50.35,55.26,59.47,64.33,69.65,74.56,78.95,83.86,84.79,89.18,94.16,99.42,103.21,104.21,108.77,113.74,119,123.68,127.95,129.25,133.91,138.89,143.86,148.42,153.81,158.77,163.74,168.42,169.7,172.46,177.49,182.46,186.26,189.95,194.74,199.7,204.68,209.47,214.33,219,223.68,228.37,231.46,237.42,242.11,246.79],
            "grid": true, "ticks": true, "tickSize": 3, "labelPadding": 3,
            "labelExpr": "datum.value==-1.18?'Oct':datum.value==20.65?'Nov':datum.value==41.98?'Dec':datum.value==64.33?'2022':datum.value==84.79?'Feb':datum.value==104.21?'Mar':datum.value==127.95?'Apr':datum.value==148.42?'May':datum.value==169.7?'Jun':datum.value==189.95?'Jul':datum.value==209.47?'Aug':datum.value==231.46?'Sep':''",
            "labelFontWeight": {"condition": {"test": "datum.value == 64.33", "value": "bold"}, "value": "normal"}}}
      },
      "layer": [
        {
          "data": {"name": "upper"},
          "mark": {"type": "line", "color": "#6e6edc", "strokeWidth": 1.6, "clip": true},
          "encoding": {
            "y": {"field": "v", "type": "quantitative", "scale": {"type": "log", "domain": [82.34, 116.46], "nice": false, "zero": false},
              "axis": {"orient": "right", "values": [85, 87.5, 90, 92.5, 95, 97.5, 100, 102.5, 105, 107.5, 110, 112.5, 115], "format": ".1f", "labelAlign": "right", "tickSize": 5, "labelPadding": 47, "grid": true}}
          }
        },
        {
          "data": {"name": "lower"},
          "mark": {"type": "line", "color": "#6e6edc", "strokeWidth": 1.6, "clip": true},
          "encoding": {"y": {"field": "v", "type": "quantitative"}}
        },
        {
          "data": {"name": "middle"},
          "mark": {"type": "line", "color": "#7676e0", "strokeWidth": 1.6, "strokeDash": [2, 3], "clip": true},
          "encoding": {"y": {"field": "v", "type": "quantitative"}}
        },
        {
          "data": {"name": "price"},
          "transform": [
            {"window": [{"op": "lead", "field": "t", "as": "t2"}, {"op": "lead", "field": "p", "as": "p2"}], "sort": [{"field": "t", "order": "ascending"}]},
            {"filter": "isValid(datum.t2)"}
          ],
          "mark": {"type": "rule", "strokeWidth": 3, "strokeCap": "round", "clip": true},
          "encoding": {
            "x2": {"field": "t2"},
            "y": {"field": "p", "type": "quantitative"},
            "y2": {"field": "p2"},
            "color": {"condition": {"test": "datum.p2 >= datum.p", "value": "#1f9a1f"}, "value": "#ff1a12"}
          }
        },
        {
          "data": {"name": "labels"},
          "mark": {"type": "point", "filled": true, "fill": "#2a2a2a", "stroke": "#8a8a8a", "strokeWidth": 1, "opacity": 1, "size": 3600},
          "encoding": {
            "y": {"field": "p", "type": "quantitative"},
            "shape": {
              "condition": [
                {"test": "datum.kind == 'peak' && length(datum.txt) > 5", "value": "M0,0L-0.3,-0.367L-0.95,-0.367L-0.95,-0.967L0.95,-0.967L0.95,-0.367L0.3,-0.367Z"},
                {"test": "datum.kind == 'peak'", "value": "M0,0L-0.3,-0.367L-0.817,-0.367L-0.817,-0.967L0.817,-0.967L0.817,-0.367L0.3,-0.367Z"},
                {"test": "length(datum.txt) > 5", "value": "M0,0L-0.3,0.367L-0.95,0.367L-0.95,0.967L0.95,0.967L0.95,0.367L0.3,0.367Z"}
              ],
              "value": "M0,0L-0.3,0.367L-0.817,0.367L-0.817,0.967L0.817,0.967L0.817,0.367L0.3,0.367Z"
            }
          }
        },
        {
          "data": {"name": "labels"},
          "transform": [{"filter": "datum.kind == 'peak'"}],
          "mark": {"type": "text", "font": "DejaVu Sans", "fontSize": 14, "color": "#e0d8aa", "align": "center", "baseline": "middle", "dy": -20},
          "encoding": {"y": {"field": "p", "type": "quantitative"}, "text": {"field": "txt"}}
        },
        {
          "data": {"name": "labels"},
          "transform": [{"filter": "datum.kind == 'trough'"}],
          "mark": {"type": "text", "font": "DejaVu Sans", "fontSize": 14, "color": "#e0d8aa", "align": "center", "baseline": "middle", "dy": 20},
          "encoding": {"y": {"field": "p", "type": "quantitative"}, "text": {"field": "txt"}}
        }
      ]
    }
  ]
}
